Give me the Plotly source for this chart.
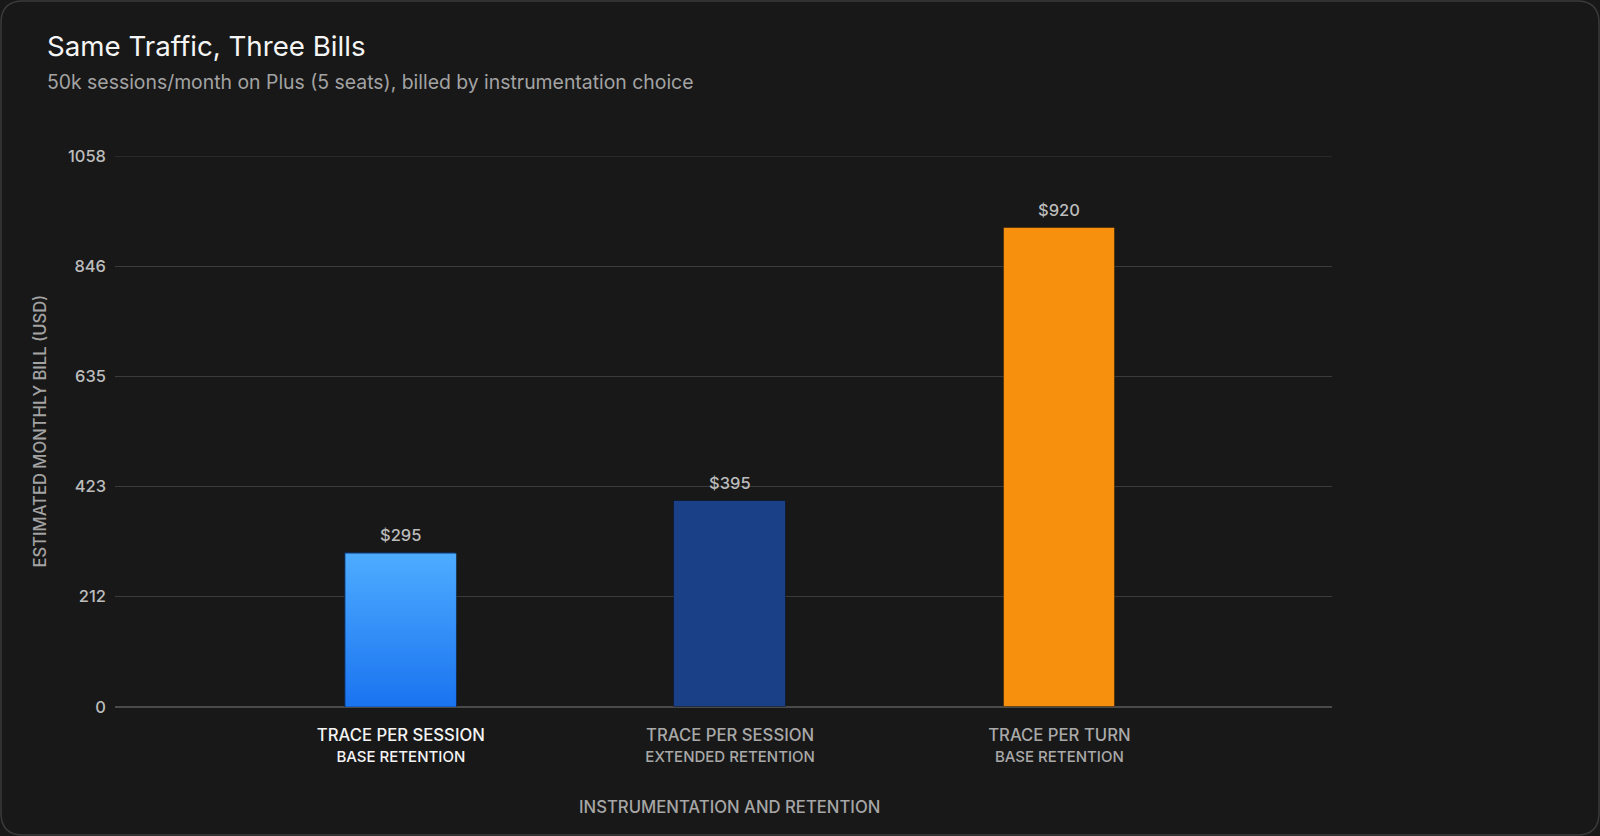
import plotly.graph_objects as go

categories = ["TRACE PER SESSION", "TRACE PER SESSION", "TRACE PER TURN"]
retention = ["BASE RETENTION", "EXTENDED RETENTION", "BASE RETENTION"]
bills = [295, 395, 920]
bar_labels = ["$295", "$395", "$920"]
y_ticks = [0, 212, 423, 635, 846, 1058]
y_max = 1058

bar_colors = ["#1b74ee", "#1a4087", "#f7900c"]
label_colors = ["#f4f4f4", "#a9a9a9", "#a9a9a9"]
BG = "#181818"
FONT = "Inter"
GRID = "#3b3b3b"
bar_w = 0.338

xs = list(range(len(categories)))
ticktext = []
for c, r, col in zip(categories, retention, label_colors):
    ticktext.append(
        f'<span style="color:{col}">{c}</span><br>'
        f'<span style="color:{col};font-size:15px">{r}</span>'
    )

fig = go.Figure()
fig.add_trace(go.Bar(
    x=xs, y=bills, width=bar_w,
    marker=dict(color=bar_colors, line=dict(color="rgba(0,0,0,0.35)", width=1)),
    hoverinfo="skip", showlegend=False,
))

# gradient overlay on first bar, geometry derived from the data value
x0 = xs[0] - bar_w / 2
x1 = xs[0] + bar_w / 2
v = bills[0]
fig.add_trace(go.Scatter(
    x=[x0, x1, x1, x0, x0], y=[0, 0, v, v, 0],
    mode="lines", line=dict(width=1, color="rgba(0,0,0,0.35)"),
    fill="toself",
    fillgradient=dict(type="vertical", start=0, stop=v,
                      colorscale=[[0, "#1a73f0"], [1, "#4eacff"]]),
    hoverinfo="skip", showlegend=False,
))

W, H = 1600, 836
ml, mr, mt, mb = 115, 268, 156, 129
pw = W - ml - mr
ph = H - mt - mb


def fx(px):
    return (px - ml) / pw


def fy(py):
    return (H - mb - py) / ph


annotations = [
    dict(text="Same Traffic, Three Bills", xref="paper", yref="paper",
         x=fx(45), y=fy(46), xanchor="left", yanchor="middle",
         showarrow=False, font=dict(size=27.7, color="#f5f5f5", family=FONT)),
    dict(text="50k sessions/month on Plus (5 seats), billed by instrumentation choice",
         xref="paper", yref="paper",
         x=fx(45), y=fy(82), xanchor="left", yanchor="middle",
         showarrow=False, font=dict(size=19.4, color="#a3a3a3", family=FONT)),
    dict(text="ESTIMATED MONTHLY BILL (USD)", xref="paper", yref="paper",
         x=fx(39), y=0.5, xanchor="center", yanchor="middle", textangle=-90,
         showarrow=False, font=dict(size=16.6, color="#a3a3a3", family=FONT, weight=500)),
    dict(text="INSTRUMENTATION AND RETENTION", xref="paper", yref="paper",
         x=fx(729.6), y=fy(807), xanchor="center", yanchor="middle",
         showarrow=False, font=dict(size=16.7, color="#a6a6a6", family=FONT, weight=500)),
]
for xi, val, lab in zip(xs, bills, bar_labels):
    annotations.append(dict(
        text=lab, x=xi, y=val, xref="x", yref="y", xanchor="center", yanchor="middle",
        yshift=18, showarrow=False,
        font=dict(size=16.5, color="#bcbcbc", family=FONT, weight=500)))

fig.update_layout(
    width=W, height=H,
    margin=dict(l=ml, r=mr, t=mt, b=mb, pad=0),
    paper_bgcolor=BG, plot_bgcolor=BG,
    font=dict(family=FONT, color="#bbbbbb", size=15),
    bargap=0,
    xaxis=dict(
        range=[-0.868, 2.828], tickmode="array", tickvals=xs, ticktext=ticktext,
        showgrid=False, zeroline=False, showline=False, ticks="",
        tickfont=dict(size=16.7, family=FONT, weight=500), ticklabelstandoff=16,
        fixedrange=True,
    ),
    yaxis=dict(
        range=[0, y_max], tickmode="array", tickvals=y_ticks,
        ticktext=[str(t) for t in y_ticks],
        showgrid=True, gridcolor=GRID, gridwidth=1,
        zeroline=True, zerolinecolor="#4a4a4a", zerolinewidth=1.5,
        showline=False, ticks="", ticklabelstandoff=8,
        tickfont=dict(size=16.5, color="#bdbdbd", family=FONT, weight=500),
        fixedrange=True,
    ),
    annotations=annotations,
)

# top gridline (at the axis edge, which plotly does not draw itself)
fig.add_shape(type="line", xref="paper", yref="y", x0=0, x1=1,
              y0=y_ticks[-1], y1=y_ticks[-1], line=dict(color=GRID, width=1),
              layer="below")

# rounded card border (paper coordinates)
r = 22
L, T, R, B = 1, 1, W - 1, H - 1
pts = [
    ("M", [(L + r, T)]), ("L", [(R - r, T)]), ("Q", [(R, T), (R, T + r)]),
    ("L", [(R, B - r)]), ("Q", [(R, B), (R - r, B)]), ("L", [(L + r, B)]),
    ("Q", [(L, B), (L, B - r)]), ("L", [(L, T + r)]), ("Q", [(L, T), (L + r, T)]),
]
path = " ".join(cmd + " " + " ".join(f"{fx(px):.5f},{fy(py):.5f}" for px, py in p)
                for cmd, p in pts) + " Z"
fig.add_shape(type="path", xref="paper", yref="paper", path=path,
              line=dict(color="#3a3a3a", width=1.5), layer="below")

fig.write_html("out.html", config={"displayModeBar": False})
